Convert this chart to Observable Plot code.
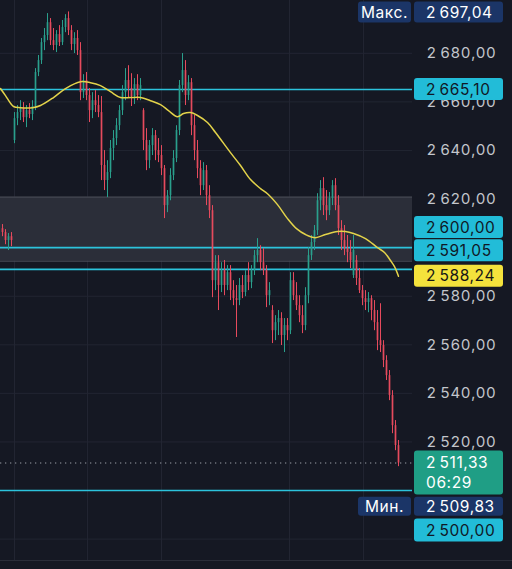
<!DOCTYPE html>
<html><head><meta charset="utf-8">
<script src="https://cdn.jsdelivr.net/npm/d3@7"></script>
<script src="https://cdn.jsdelivr.net/npm/@observablehq/plot@0.6"></script>
<style>
html,body{margin:0;padding:0;background:#151823;}
#chart{width:512px;height:560px;overflow:hidden;}
.base{height:8px;border-top:1px solid #2a2d39;background:#151823;}
</style></head><body><div id="chart"></div><div class="base"></div>
<script>
// ---- data ----
const open = [2607.8,2606.2,2602.9,2604.5,2644.1,2653.1,2655.6,2657.2,2653.5,2656.4,
2654.8,2658.1,2672.1,2677.0,2684.4,2687.3,2692.6,2685.2,2683.2,2687.7,
2684.4,2690.6,2694.3,2689.35,2683.6,2686.1,2681.1,2663.8,2668.8,2662.6,
2656.4,2660.5,2658.5,2655.6,2633.8,2627.6,2630.9,2640.8,2644.9,2650.2,
2656.4,2663.8,2668.8,2665.5,2662.2,2667.1,2662.6,2656.4,2644.1,2635.8,
2642.0,2646.1,2639.95,2637.9,2632.5,2617.3,2621.4,2629.65,2636.7,2648.2,
2666.7,2672.9,2662.6,2667.9,2650.2,2639.95,2632.5,2625.5,2631.7,2621.4,
2615.2,2586.4,2593.8,2584.4,2590.5,2584.4,2589.7,2582.3,2579.0,2578.2,
2584.4,2581.5,2588.5,2585.6,2590.5,2596.7,2598.8,2593.8,2590.5,2580.2,
2574.1,2565.8,2569.1,2570.8,2563.8,2567.9,2565.8,2586.4,2580.2,2576.1,
2572.0,2567.9,2580.2,2596.7,2602.1,2607.0,2619.3,2624.3,2617.3,2615.2,
2620.2,2625.5,2617.3,2607.8,2602.9,2599.6,2598.0,2588.5,2594.7,2587.3,
2582.3,2579.0,2577.4,2579.0,2574.1,2569.1,2561.7,2559.7,2553.5,2547.3,
2539.1,2526.7,2518.5];
const high = [2609.5,2607.4,2605.8,2606.2,2655.6,2658.5,2660.5,2659.7,2658.5,2659.3,
2660.5,2673.7,2679.1,2686.1,2690.2,2696.35,2694.3,2690.2,2689.35,2691.4,
2693.5,2695.9,2697.04,2691.4,2688.5,2689.35,2684.4,2671.2,2672.1,2665.5,
2663.8,2664.65,2662.6,2662.2,2639.95,2635.8,2644.1,2648.2,2653.1,2658.5,
2666.7,2673.7,2674.9,2671.6,2669.6,2671.2,2669.6,2657.2,2649.0,2644.1,
2649.0,2648.2,2644.9,2642.0,2633.8,2623.5,2632.5,2639.95,2650.2,2668.8,
2679.9,2677.0,2670.8,2669.6,2654.4,2644.1,2635.8,2635.0,2633.8,2625.5,
2617.3,2596.7,2596.7,2593.8,2594.7,2592.6,2592.6,2586.4,2584.4,2587.3,
2588.5,2590.5,2593.8,2592.6,2598.8,2603.7,2600.8,2599.6,2592.6,2585.6,
2576.1,2572.0,2574.1,2573.2,2570.8,2570.8,2589.7,2589.7,2585.6,2580.2,
2576.1,2583.5,2600.0,2605.0,2609.1,2622.2,2627.6,2628.8,2623.5,2622.7,
2627.6,2628.4,2621.4,2611.1,2609.1,2605.0,2602.9,2605.0,2596.7,2591.4,
2584.4,2582.3,2581.5,2580.2,2578.2,2574.1,2576.9,2561.7,2555.5,2549.4,
2541.1,2528.8,2520.6];
const low = [2604.5,2601.2,2598.8,2600.4,2642.8,2650.2,2652.3,2651.5,2649.4,2653.1,
2652.3,2656.4,2670.4,2675.4,2681.1,2685.2,2683.2,2681.1,2680.3,2682.8,
2683.2,2688.5,2687.3,2681.1,2679.9,2679.1,2660.5,2661.4,2660.5,2651.5,
2653.1,2655.6,2653.5,2627.6,2623.5,2620.6,2628.4,2635.8,2642.0,2648.2,
2654.4,2660.5,2661.4,2658.1,2658.9,2660.5,2660.5,2639.95,2631.7,2632.5,
2637.9,2635.8,2635.0,2629.65,2611.95,2614.4,2619.3,2627.6,2635.0,2646.1,
2663.8,2658.5,2660.5,2646.1,2635.8,2628.4,2621.4,2623.5,2617.3,2611.95,
2579.4,2582.3,2574.1,2581.5,2580.2,2582.3,2578.2,2576.1,2563.0,2576.1,
2579.0,2579.8,2582.3,2583.1,2588.5,2593.8,2590.5,2588.5,2575.3,2576.1,
2560.5,2561.7,2563.8,2559.7,2556.8,2561.7,2564.2,2578.2,2574.1,2569.1,
2564.6,2565.8,2576.9,2594.7,2598.8,2605.0,2615.2,2613.2,2611.1,2613.2,
2617.3,2615.2,2605.0,2598.8,2596.7,2593.8,2591.4,2587.3,2584.4,2581.1,
2576.1,2574.1,2573.2,2569.9,2565.8,2557.6,2556.8,2550.6,2545.3,2537.0,
2523.4,2516.4,2509.83];
const close = [2606.2,2602.9,2604.5,2602.9,2653.1,2655.6,2657.2,2653.5,2656.4,2654.8,
2658.1,2672.1,2677.0,2684.4,2687.3,2692.6,2685.2,2683.2,2687.7,2684.4,
2690.6,2694.3,2689.35,2683.6,2686.1,2681.1,2663.8,2668.8,2662.6,2656.4,
2660.5,2658.5,2655.6,2633.8,2627.6,2630.9,2640.8,2644.9,2650.2,2656.4,
2663.8,2668.8,2665.5,2662.2,2667.1,2662.6,2666.7,2644.1,2635.8,2642.0,
2646.1,2639.95,2637.9,2632.5,2617.3,2621.4,2629.65,2636.7,2648.2,2666.7,
2672.9,2662.6,2667.9,2650.2,2639.95,2632.5,2625.5,2631.7,2621.4,2615.2,
2586.4,2593.8,2584.4,2590.5,2584.4,2589.7,2582.3,2579.0,2578.2,2584.4,
2581.5,2588.5,2585.6,2590.5,2596.7,2598.8,2593.8,2590.5,2580.2,2582.3,
2565.8,2569.1,2570.8,2563.8,2567.9,2565.8,2586.4,2580.2,2576.1,2572.0,
2567.9,2580.2,2596.7,2602.1,2607.0,2619.3,2624.3,2617.3,2615.2,2620.2,
2625.5,2617.3,2607.8,2602.9,2599.6,2598.0,2594.7,2598.8,2587.3,2582.3,
2579.0,2577.4,2579.0,2574.1,2569.1,2561.7,2559.7,2553.5,2547.3,2539.1,
2526.7,2518.5,2511.33];
// moving average (read at candle positions)
const maIndex = [-0.67,1,3.67,6,10,12.67,17,21,26,29.33,32.67,36,39.33,42.67,46,49.33,52.67,55.33,58.33,60.33,62.67,65,68.33,71,76,79.33,82.67,86,88.33,91.67,95,98,101,104.33,107.67,111.67,114.33,117,121,125,127.33,129.33,130.67,132];
const maValue = [2665.5,2662.6,2658.1,2657.6,2657.6,2658.5,2661.8,2665.5,2668.3,2667.9,2666.7,2664.2,2661.8,2661.8,2661.8,2660.5,2658.9,2656.4,2653.9,2655.2,2655.6,2654.4,2651.5,2647.4,2639.1,2633.8,2628.0,2624.3,2622.2,2617.7,2611.95,2607.8,2605.4,2604.1,2605.4,2606.6,2606.6,2605.8,2603.7,2600.0,2598.0,2594.7,2592.2,2588.24];
const levels = [2665.10, 2600.00, 2591.05, 2500.00];
const zone = [2594.4, 2620.8];
const timeGrid = [4, 28.33, 53, 95.67, 120.33];
const gridPrices = [2480, 2500, 2520, 2540, 2560, 2580, 2600, 2620, 2640, 2660, 2680];
const yTickLabels = [2520, 2540, 2560, 2580, 2620, 2640, 2660, 2680];
const maxPrice = 2697.04, minPrice = 2509.83, lastPrice = 2511.33, maLast = 2588.24;
const countdown = "06:29";
const maxText = "Макс.", minText = "Мин.";

// ---- build ----
const candles = close.map((c, i) => ({i, o: open[i], h: high[i], l: low[i], c}));
const up = candles.filter(d => d.c >= d.o), down = candles.filter(d => d.c < d.o);
const ma = maIndex.map((x, k) => ({x, y: maValue[k]}));
const loc = d3.formatLocale({decimal: ",", thousands: "\u2009", grouping: [3], currency: ["", ""]});
const fmt = loc.format(",.2f");
const UP = "#2a9f8c", DOWN = "#e64a5d";
const X0 = -2/3, X1 = 410/3;

const chart = Plot.plot({
  width: 512, height: 560,
  marginLeft: 0, marginRight: 100, marginTop: 0, marginBottom: 0,
  style: {background: "#151823", color: "#c3c6cc", fontFamily: "Inter, sans-serif", fontSize: "15px", letterSpacing: "0.6px"},
  x: {domain: [X0, X1], axis: null},
  y: {domain: [2471.19, 2701.74], axis: "right", ticks: yTickLabels, tickFormat: fmt, tickSize: 0, tickPadding: 14, label: null},
  marks: [
    Plot.ruleY(gridPrices, {stroke: "#222532"}),
    Plot.ruleX(timeGrid, {stroke: "#222532"}),
    Plot.rect([zone], {x1: X0, x2: X1, y1: d => d[0], y2: d => d[1], fill: "#2b2e39"}),
    Plot.ruleY(zone, {stroke: "#4a4d58"}),
    Plot.ruleY([lastPrice], {stroke: "#9a9da6", strokeDasharray: "1.3,3.7"}),
    Plot.ruleY(levels, {stroke: "#2cc3dc", strokeWidth: 1.6}),
    Plot.ruleX(up, {x: "i", y1: "l", y2: "h", stroke: UP, strokeWidth: 1}),
    Plot.ruleX(down, {x: "i", y1: "l", y2: "h", stroke: DOWN, strokeWidth: 1}),
    Plot.ruleX(up, {x: "i", y1: "o", y2: "c", stroke: UP, strokeWidth: 1.7}),
    Plot.ruleX(down, {x: "i", y1: "o", y2: "c", stroke: DOWN, strokeWidth: 1.7}),
    Plot.line(ma, {x: "x", y: "y", stroke: "#e3d34a", strokeWidth: 1.5, curve: "catmull-rom"})
  ]
});
document.getElementById("chart").appendChild(chart);

// ---- price tags on the right, placed with the chart's y scale ----
const ys = chart.scale("y");
const svg = d3.select(chart);
const tags = svg.append("g").attr("font-family", "Inter, sans-serif").attr("font-size", 15.5);
function tag(x0, x1, cy, h, fill, color, lines, anchor) {
  const g = tags.append("g");
  g.append("rect").attr("x", x0).attr("y", cy - h / 2).attr("width", x1 - x0).attr("height", h)
    .attr("rx", 3).attr("fill", fill);
  const lh = lines.length > 1 ? 20 : 0;
  lines.forEach((t, k) => {
    g.append("text").attr("x", anchor === "middle" ? (x0 + x1) / 2 : x0 + 12)
      .attr("y", cy - (lines.length - 1) * lh / 2 + k * lh).attr("dy", "0.36em")
      .attr("text-anchor", anchor || "start").attr("fill", color)
      .attr("letter-spacing", 0.6).text(t);
  });
}
const VX0 = 414, VX1 = 503, NX0 = 358, NX1 = 411;
const NAVY = "#1b3567", CYAN = "#22bcd8";
tag(NX0, NX1, ys.apply(maxPrice) + 0.6, 21, NAVY, "#ffffff", [maxText], "middle");
tag(VX0, VX1, ys.apply(maxPrice) + 0.6, 21, NAVY, "#ffffff", [fmt(maxPrice)]);
tag(VX0, VX1, ys.apply(levels[0]), 22, CYAN, "#101826", [fmt(levels[0])]);
tag(VX0, VX1, ys.apply(levels[1]) - 20, 22, CYAN, "#101826", [fmt(levels[1])]);
tag(VX0, VX1, ys.apply(levels[2]) - 18.5, 22, CYAN, "#101826", [fmt(levels[2])]);
tag(VX0, VX1, ys.apply(maLast), 22, "#f4e23c", "#161616", [fmt(maLast)]);
tag(VX0, VX1, ys.apply(lastPrice) + 10, 44, "#1f9e85", "#ffffff", [fmt(lastPrice), countdown]);
tag(NX0, NX1, ys.apply(minPrice) + 40, 19, NAVY, "#ffffff", [minText], "middle");
tag(VX0, VX1, ys.apply(minPrice) + 40, 19, NAVY, "#ffffff", [fmt(minPrice)]);
tag(VX0, VX1, ys.apply(levels[3]) + 40, 23, CYAN, "#101826", [fmt(levels[3])]);
</script></body></html>
